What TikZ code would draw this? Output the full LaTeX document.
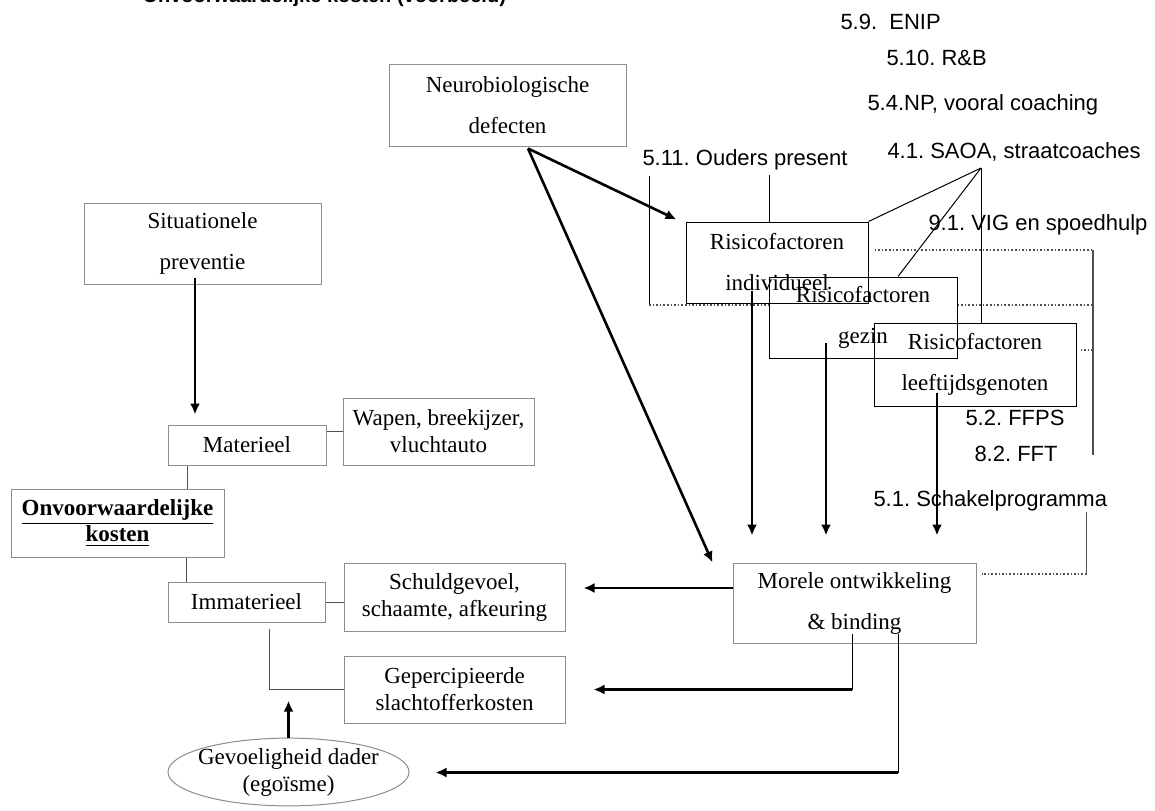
\documentclass[tikz,border=0pt]{standalone}
\usepackage{fontspec}
\setmainfont{Liberation Serif}
\newfontfamily\arialfont{Liberation Sans}
\frenchspacing
\usetikzlibrary{calc, shapes.geometric, arrows.meta}
\tikzstyle{box}=[draw=boxgray, rectangle, align=center, inner sep=0pt,
font=\fontsize{11.5}{13.5}\selectfont]
\tikzstyle{widebox}=[box, font=\fontsize{11.5}{20.5}\selectfont]
\tikzstyle{risico}=[widebox, draw=black]
\tikzstyle{oval}=[draw=boxgray, ellipse, align=center, inner ysep=0pt,
inner xsep=-3pt, font=\fontsize{11.5}{13.5}\selectfont]
\tikzstyle{prog}=[anchor=west, inner sep=0pt, font=\arialfont\fontsize{11}{13}\selectfont]
\tikzstyle{arr}=[line width=1.3pt, -{Latex[length=5.5pt,width=5pt]}]
\tikzstyle{dots}=[densely dotted, line width=0.8pt, draw=linegray]
\definecolor{boxgray}{RGB}{140,140,140}
\definecolor{linegray}{RGB}{80,80,80}

\begin{document}
\begin{tikzpicture}[x=0.5pt, y=-0.5pt, line width=0.5pt]
\useasboundingbox (0, 0) rectangle (1155, 810);
\draw (142, 2) node [anchor=base west, inner sep=0pt,
  font=\arialfont\bfseries\fontsize{10}{12}\selectfont] (titel) {Onvoorwaardelijke kosten (voorbeeld)};

% linkerkant
\draw (202.5, 243.5) node [widebox, minimum width=118.5pt, minimum height=40.5pt] (situ) {Situationele\\preventie};
\draw (247, 445) node [box, minimum width=79pt, minimum height=20pt] (mat) {Materieel};
\draw (438.5, 431.5) node [box, minimum width=95.5pt, minimum height=33.5pt] (wapen) {Wapen, breekijzer,\\vluchtauto};
\draw (117.5, 523) node [box, minimum width=106.5pt, minimum height=34pt,
  font=\bfseries\fontsize{11.5}{13}\selectfont] (onvw) {\underline{Onvoorwaardelijke}\\\underline{kosten}};
\draw (246.5, 602) node [box, minimum width=78.5pt, minimum height=20pt] (immat) {Immaterieel};
\draw (454.5, 597) node [box, minimum width=110.5pt, minimum height=34pt] (schuld) {Schuldgevoel,\\schaamte, afkeuring};
\draw (454.5, 689.5) node [box, minimum width=110.5pt, minimum height=33.5pt] (geperc) {Gepercipieerde\\slachtofferkosten};
\draw (288.5, 772) node [oval, minimum width=120.5pt, minimum height=33.5pt] (dader) {Gevoeligheid dader\\(egoïsme)};

% midden en rechts
\draw (507.5, 105) node [widebox, minimum width=118.5pt, minimum height=41pt] (neuro) {Neurobiologische\\defecten};
\draw (854.5, 603) node [widebox, minimum width=121.5pt, minimum height=40pt] (morele) {Morele ontwikkeling\\\& binding};
\draw (777, 262.5) node [risico, minimum width=91pt, minimum height=40.5pt] (indiv) {Risicofactoren\\individueel};
\draw (863, 317.5) node [risico, minimum width=94pt, minimum height=40.5pt] (gezin) {Risicofactoren\\gezin};
\draw (975, 364.5) node [risico, minimum width=101pt, minimum height=41.5pt] (leeft) {Risicofactoren\\leeftijdsgenoten};

% programma's
\draw (840, 22) node [prog] (enip) {5.9.\ \ ENIP};
\draw (886, 58) node [prog] (rb) {5.10. R\&B};
\draw (867, 105) node [prog] (np) {5.4.NP, vooral coaching};
\draw (887, 152) node [prog] (saoa) {4.1. SAOA, straatcoaches};
\draw (642, 160) node [prog] (ouders) {5.11. Ouders present};
\draw (928, 225) node [prog] (vig) {9.1. VIG en spoedhulp};
\draw (965, 418) node [prog] (ffps) {5.2. FFPS};
\draw (974, 454) node [prog] (fft) {8.2. FFT};
\draw (873, 501) node [prog] (schakel) {5.1. Schakelprogramma};

\coordinate (nb) at ([xshift=10.25pt,yshift=-1pt]neuro.south);
\coordinate (sa) at (981, 168);
\coordinate (rtop) at (1093, 250);
\coordinate (rbot) at (1093, 455);

% pijlen
\draw [arr] ([xshift=-3.75pt,yshift=3.5pt]situ.south) -- ([xshift=-26pt,yshift=5pt]mat.north);
\draw [arr] (nb) -- ([xshift=-4.5pt,yshift=1pt]indiv.north west);
\draw [arr] (nb) -- ([xshift=-10pt]morele.north west);
\draw [arr] ([xshift=-12.5pt,yshift=6.5pt]indiv.south) -- ++(0, 245);
\draw [arr] ([xshift=-18.5pt,yshift=8pt]gezin.south) -- ++(0, 193);
\draw [arr] ([xshift=-19pt,yshift=7pt]leeft.south) -- ++(0, 143);
\draw [arr] ([yshift=7.5pt]morele.west) -- ++(-149, 0);
\draw ([xshift=-1.25pt,yshift=5pt]morele.south) -- ++(0, 56) coordinate (m1);
\draw [arr] (m1) -- ($(geperc.east |- m1)+(28,0)$);
\draw ([xshift=21.75pt,yshift=5pt]morele.south) -- ++(0, 139) coordinate (m2);
\draw [arr] (m2) -- ($(dader.east |- m2)+(26,0)$);
\draw [arr] (dader.north) -- ([yshift=18.5pt]dader.north);

% lijnen links
\draw [draw=linegray] (mat.east |- wapen.west) -- (wapen.west);
\draw [draw=linegray] ([xshift=-30pt]mat.south) -- ($(mat.south |- onvw.north)+(-60,0)$);
\draw [draw=linegray] ([xshift=-30pt]immat.north) -- ($(immat.north |- onvw.south)+(-60,0)$);
\draw [draw=linegray] (immat.east) -- (immat.east -| schuld.west);
\draw [draw=linegray] ([xshift=11.25pt,yshift=-3pt]immat.south) |- (geperc.west);

% lijnen programma's
\draw ([xshift=3.5pt,yshift=-2.5pt]ouders.south west) -- ++(0, 129) coordinate (o1);
\draw ([xshift=-4pt]indiv.north) -- ([xshift=-4pt,yshift=23.5pt]indiv.north);
\draw [dots] (o1) -- (o1 -| gezin.west);
\draw [dots] (o1 -| gezin.east) -- (o1 -| rtop);
\draw (sa) -- (indiv.north east);
\draw (sa) -- ([xshift=17.5pt]gezin.north);
\draw (sa) -- (sa |- leeft.north);
\draw [draw=linegray, line width=0.8pt] (rtop) -- (rbot);
\draw [dots] ($(indiv.east |- rtop)+(6,0)$) -- (rtop);
\draw [dots] ($(leeft.east)+(4,-14.5)$) -- ($(rtop |- leeft.east)+(0,-14.5)$);
\draw [draw=linegray, line width=0.8pt] ([xshift=-10.5pt]schakel.south east) -- ++(0, 62) coordinate (s1);
\draw [dots] (s1) -- ($(morele.east |- s1)+(5,0)$);
\end{tikzpicture}
\end{document}
